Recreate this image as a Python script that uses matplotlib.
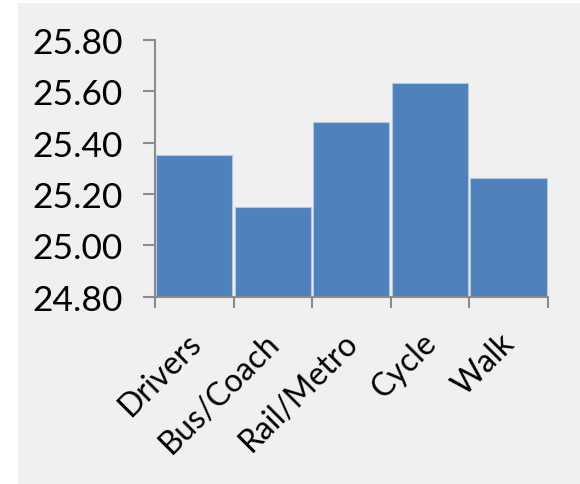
import matplotlib
matplotlib.use("Agg")
import matplotlib.pyplot as plt
from matplotlib.patches import Rectangle
from matplotlib.transforms import ScaledTranslation

categories = ["Drivers", "Bus/Coach", "Rail/Metro", "Cycle", "Walk"]
values = [25.35, 25.15, 25.48, 25.63, 25.26]
yticks = [24.80, 25.00, 25.20, 25.40, 25.60, 25.80]

plt.rcParams["font.family"] = ["Lato", "DejaVu Sans"]

fig = plt.figure(figsize=(5.8, 4.85), dpi=100, facecolor="white")
# light grey chart area panel, drawn behind the axes
panel = Rectangle((18 / 580, 0), 1 - 18 / 580, 1 - 4 / 485,
                  transform=fig.transFigure, facecolor="#f0f0f0",
                  edgecolor="none", zorder=-10)
fig.add_artist(panel)

ax = fig.add_axes([155 / 580, 1 - 297.7 / 485, (547.7 - 155) / 580, (297.7 - 40.7) / 485])
ax.set_facecolor("none")
ax.set_zorder(1)

x = list(range(len(categories)))
ax.bar(x, [v - yticks[0] for v in values], bottom=yticks[0], width=0.97,
       color="#4f81bd", edgecolor="#b3c7e2", linewidth=0.8, zorder=2)

ax.set_xlim(-0.5, len(categories) - 0.5)
ax.set_ylim(yticks[0], yticks[-1])
ax.set_yticks(yticks)
ax.set_yticklabels([f"{t:.2f}" for t in yticks], fontsize=25.5)

# category boundary ticks on the x axis
ax.set_xticks([i - 0.5 for i in range(len(categories) + 1)])
ax.set_xticklabels([])
ax.set_xticks(x, minor=True)
ax.set_xticklabels(categories, minor=True, rotation=45, ha="right",
                   va="top", rotation_mode="anchor", fontsize=23)

for side in ("top", "right"):
    ax.spines[side].set_visible(False)
for side in ("left", "bottom"):
    ax.spines[side].set_color("#8c8c8c")
    ax.spines[side].set_linewidth(1.5)
    ax.spines[side].set_zorder(3)

ax.tick_params(axis="y", which="major", length=9, width=1.5, color="#8c8c8c", pad=14)
ax.tick_params(axis="x", which="major", length=8, width=1.5, color="#8c8c8c")
ax.tick_params(axis="x", which="minor", length=0, pad=22)

# nudge the rotated category labels slightly left
shift = ScaledTranslation(-9 / 100, 0, fig.dpi_scale_trans)
for lab in ax.get_xticklabels(minor=True):
    lab.set_transform(lab.get_transform() + shift)

fig.savefig("out.png", dpi=100, facecolor="white")
